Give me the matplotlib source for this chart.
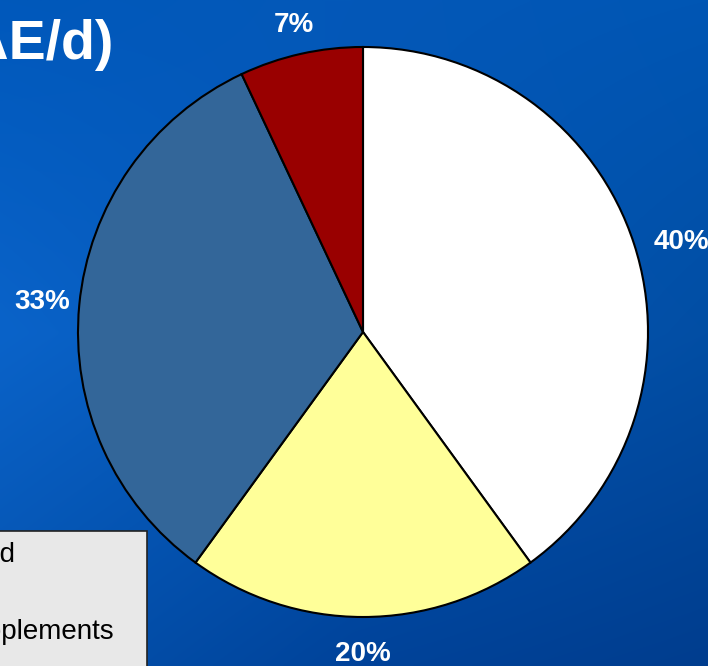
import numpy as np
import matplotlib.pyplot as plt
from matplotlib.colors import to_rgb
from matplotlib.patches import Rectangle

# slice data (clockwise from 12 o'clock)
shares = [40, 20, 33, 7]
slice_colors = ["#FFFFFF", "#FFFF99", "#336699", "#990000"]
legend_labels = ["Food", "Oil", "Supplements", "Fat"]
title_text = "Vitamin A intake (µg RAE/d)"

W, H = 708, 666
fig = plt.figure(figsize=(W / 100, H / 100), dpi=100)

# blue background, bilinear blend of a 3x3 grid of sampled tones
grid = [["#0058BB", "#0458B8", "#0056B4"],
        ["#0A63C9", "#0457B6", "#024EA4"],
        ["#0452AE", "#00439A", "#003D8E"]]
g = np.array([[to_rgb(c) for c in row] for row in grid])
n = 300
u = np.linspace(0, 2, n)
i0 = np.minimum(u.astype(int), 1)
f = (u - i0)[:, None]
rows = g[i0] * (1 - f[..., None]) + g[i0 + 1] * f[..., None]        # along y
img = rows[:, i0] * (1 - f[None, :, :]) + rows[:, i0 + 1] * f[None, :, :]  # along x

bg = fig.add_axes([0, 0, 1, 1])
bg.imshow(img, extent=[0, W, H, 0], aspect="auto", interpolation="bilinear")
bg.set_xlim(0, W)
bg.set_ylim(H, 0)
bg.axis("off")

# title (mostly off the left edge)
bg.text(113, 59, title_text, color="white", fontsize=40, fontweight="bold",
        family="Liberation Sans", ha="right", va="baseline")

# legend box (cropped)
bg.add_patch(Rectangle((-200, 531), 347, 200, facecolor="#E8E8E8",
                       edgecolor="#222222", lw=1.2))
for i, lab in enumerate(legend_labels):
    bg.text(-47, 555 + i * 38.5, lab, fontsize=20, family="Liberation Sans",
            color="black", ha="left", va="center")

# pie
cx, cy, r = 363, 332, 285
ax = fig.add_axes([(cx - r) / W, (H - cy - r) / H, 2 * r / W, 2 * r / H])
wedges, _, autotexts = ax.pie(
    shares, colors=slice_colors, startangle=90, counterclock=False,
    autopct=lambda p: f"{p:.0f}%", pctdistance=1.13,
    wedgeprops=dict(edgecolor="black", linewidth=1.5),
    textprops=dict(color="white", fontsize=20, fontweight="bold",
                   family="Liberation Sans"))
label_dist = [1.16, 1.13, 1.13, 1.105]
label_turn = [-2.2, 0, 0, 0]
for w, t, d, a in zip(wedges, autotexts, label_dist, label_turn):
    ang = np.deg2rad((w.theta1 + w.theta2) / 2 + a)
    t.set_position((d * np.cos(ang), d * np.sin(ang)))
ax.set_xlim(-1, 1)
ax.set_ylim(-1, 1)
ax.set_aspect("auto")
ax.axis("off")

fig.savefig("out.png", dpi=100)
